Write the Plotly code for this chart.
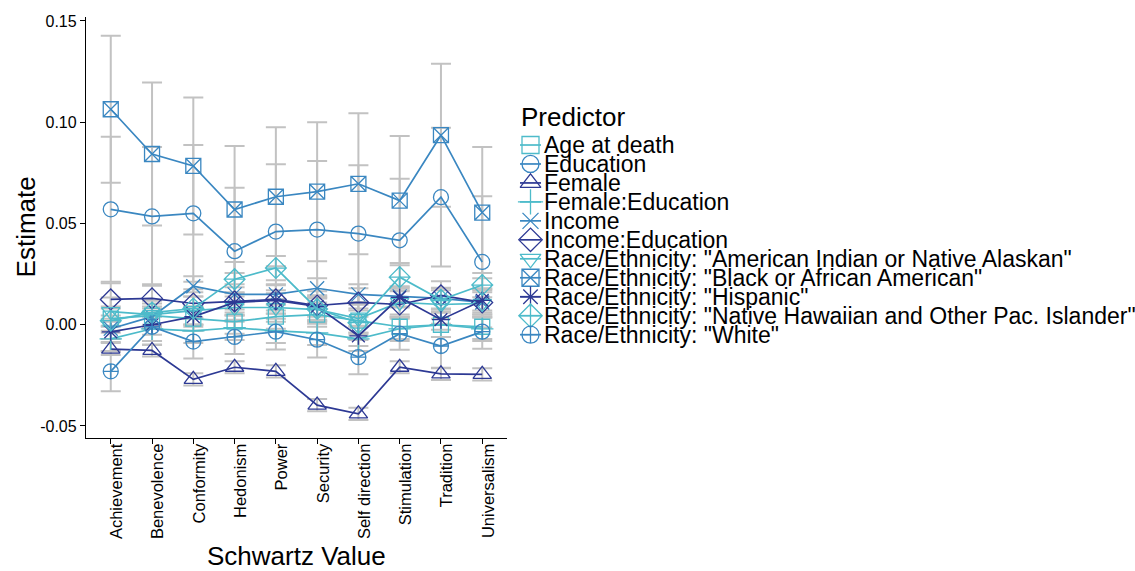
import plotly.graph_objects as go

# ---- data -------------------------------------------------------------
categories = ["Achievement", "Benevolence", "Conformity", "Hedonism", "Power",
              "Security", "Self direction", "Stimulation", "Tradition", "Universalism"]

predictors = ["Age at death", "Education", "Female", "Female:Education", "Income",
              "Income:Education",
              'Race/Ethnicity: "American Indian or Native Alaskan"',
              'Race/Ethnicity: "Black or African American"',
              'Race/Ethnicity: "Hispanic"',
              'Race/Ethnicity: "Native Hawaiian and Other Pac. Islander"',
              'Race/Ethnicity: "White"']

age_at_death = [0.0030, 0.0045, 0.0030, 0.0015, 0.0040, 0.0050, 0.0020, -0.0010, 0.0000, -0.0010]
education = [0.0570, 0.0535, 0.0550, 0.0363, 0.0460, 0.0470, 0.0450, 0.0417, 0.0630, 0.0310]
female = [-0.0120, -0.0127, -0.0270, -0.0210, -0.0230, -0.0397, -0.0440, -0.0210, -0.0243, -0.0245]
female_education = [-0.0070, -0.0020, -0.0030, -0.0015, -0.0030, -0.0040, -0.0070, -0.0020, 0.0000, -0.0020]
income = [-0.0020, 0.0040, 0.0190, 0.0150, 0.0150, 0.0180, 0.0150, 0.0140, 0.0130, 0.0110]
income_education = [0.0125, 0.0130, 0.0105, 0.0115, 0.0125, 0.0095, 0.0110, 0.0100, 0.0145, 0.0110]
amer_indian = [0.0065, 0.0050, 0.0070, 0.0085, 0.0085, 0.0075, 0.0030, 0.0110, 0.0100, 0.0105]
black = [0.1064, 0.0843, 0.0784, 0.0569, 0.0632, 0.0657, 0.0696, 0.0613, 0.0936, 0.0554]
hispanic = [-0.0035, 0.0000, 0.0040, 0.0110, 0.0120, 0.0090, -0.0055, 0.0135, 0.0025, 0.0120]
native_hawaiian = [0.0020, 0.0060, 0.0080, 0.0225, 0.0280, 0.0078, 0.0010, 0.0235, 0.0123, 0.0196]
white = [-0.0230, -0.0010, -0.0083, -0.0060, -0.0034, -0.0074, -0.0160, -0.0044, -0.0105, -0.0034]

# half-widths of the confidence intervals
age_at_death_ci = [0.006, 0.006, 0.006, 0.006, 0.006, 0.006, 0.006, 0.006, 0.006, 0.006]
education_ci = [0.0358, 0.0343, 0.0338, 0.0314, 0.0333, 0.0338, 0.0338, 0.0304, 0.0343, 0.0324]
female_ci = [0.003, 0.003, 0.003, 0.003, 0.003, 0.003, 0.003, 0.003, 0.003, 0.003]
female_education_ci = [0.006, 0.006, 0.006, 0.006, 0.006, 0.006, 0.006, 0.006, 0.006, 0.006]
income_ci = [0.005, 0.005, 0.005, 0.005, 0.005, 0.005, 0.005, 0.005, 0.005, 0.005]
income_education_ci = [0.008, 0.007, 0.007, 0.007, 0.007, 0.007, 0.007, 0.007, 0.007, 0.007]
amer_indian_ci = [0.007, 0.007, 0.007, 0.007, 0.007, 0.007, 0.007, 0.007, 0.007, 0.007]
black_ci = [0.0363, 0.0353, 0.0338, 0.0314, 0.0343, 0.0343, 0.0348, 0.0319, 0.0353, 0.0324]
hispanic_ci = [0.005, 0.005, 0.005, 0.005, 0.005, 0.005, 0.005, 0.005, 0.005, 0.005]
native_hawaiian_ci = [0.006, 0.006, 0.008, 0.0085, 0.006, 0.006, 0.006, 0.007, 0.006, 0.006]
white_ci = [0.0098, 0.0090, 0.0084, 0.0085, 0.0088, 0.0088, 0.0085, 0.0080, 0.0110, 0.0084]

y_ticks = [-0.05, 0.00, 0.05, 0.10, 0.15]
y_tick_labels = ["-0.05", "0.00", "0.05", "0.10", "0.15"]

# ---- styling ----------------------------------------------------------
LIGHT, MID, DARK = "#4dbbca", "#3a87c1", "#2d3994"
series = [
    (predictors[0], age_at_death, age_at_death_ci, LIGHT, "square-open", 15),
    (predictors[1], education, education_ci, MID, "circle-open", 15),
    (predictors[2], female, female_ci, DARK, "triangle-up-open", 16),
    (predictors[3], female_education, female_education_ci, LIGHT, "cross-thin-open", 16),
    (predictors[4], income, income_ci, MID, "x-thin-open", 14),
    (predictors[5], income_education, income_education_ci, DARK, "diamond-open", 16),
    (predictors[6], amer_indian, amer_indian_ci, LIGHT, "triangle-down-open", 16),
    (predictors[7], black, black_ci, MID, "square-x-open", 15),
    (predictors[8], hispanic, hispanic_ci, DARK, "asterisk-open", 15),
    (predictors[9], native_hawaiian, native_hawaiian_ci, LIGHT, "diamond-cross-open", 16),
    (predictors[10], white, white_ci, MID, "circle-cross-open", 15),
]

W, H = 1135, 571
FONT = "Liberation Sans, Arial, Helvetica, sans-serif"
plot_l, plot_r, plot_t, plot_b = 86, 507, 13, 437

fig = go.Figure()

# error bars first so every line and point sits above them
for name, vals, ci, col, sym, size in series:
    fig.add_trace(go.Scatter(
        x=categories, y=vals, mode="markers",
        marker=dict(size=1, opacity=0),
        error_y=dict(type="data", array=ci, symmetric=True,
                     color="#c2c2c2", thickness=2, width=10),
        showlegend=False, hoverinfo="skip"))

for name, vals, ci, col, sym, size in series:
    fig.add_trace(go.Scatter(
        x=categories, y=vals, mode="lines+markers", name=name,
        line=dict(color=col, width=1.7),
        marker=dict(symbol=sym, size=size, color=col,
                    line=dict(color=col, width=1.3)),
        showlegend=False))

# ---- legend drawn on its own pixel-scaled axes ------------------------
leg_x0, leg_key_w, leg_row0, leg_gap = 520, 21, 142, 19.1
for i, (name, vals, ci, col, sym, size) in enumerate(series):
    yy = leg_row0 + i * leg_gap
    fig.add_trace(go.Scatter(
        x=[leg_x0, leg_x0 + leg_key_w], y=[yy, yy], mode="lines",
        line=dict(color=col, width=1.7), xaxis="x2", yaxis="y2",
        showlegend=False, hoverinfo="skip"))
    fig.add_trace(go.Scatter(
        x=[leg_x0 + leg_key_w / 2], y=[yy], mode="markers",
        marker=dict(symbol=sym, size=size + 2, color=col,
                    line=dict(color=col, width=1.3)),
        xaxis="x2", yaxis="y2", showlegend=False, hoverinfo="skip"))
    fig.add_annotation(x=leg_x0 + leg_key_w + 1, y=yy, xref="x2", yref="y2",
                       text=name, showarrow=False, xanchor="left", yanchor="middle",
                       font=dict(size=23, color="black", family=FONT))

fig.add_annotation(x=leg_x0 - 1, y=leg_row0 - 28, xref="x2", yref="y2",
                   text="Predictor", showarrow=False, xanchor="left", yanchor="middle",
                   font=dict(size=26, color="black", family=FONT))

# axis titles
fig.add_annotation(x=26 / W, y=1 - 225 / H, xref="paper", yref="paper",
                   xanchor="center", yanchor="middle",
                   text="Estimate", textangle=-90, showarrow=False,
                   font=dict(size=26, color="black", family=FONT))
fig.add_annotation(x=(plot_l + plot_r) / 2 / W, y=1 - 556 / H, xref="paper", yref="paper",
                   xanchor="center", yanchor="middle",
                   text="Schwartz Value", showarrow=False,
                   font=dict(size=26, color="black", family=FONT))

fig.update_layout(
    width=W, height=H,
    margin=dict(l=0, r=0, t=0, b=0),
    paper_bgcolor="white", plot_bgcolor="rgba(0,0,0,0)",
    font=dict(family=FONT, color="black"),
    showlegend=False,
    xaxis=dict(domain=[plot_l / W, plot_r / W], type="category",
               categoryorder="array", categoryarray=categories,
               range=[-0.6, len(categories) - 0.4],
               showline=True, linecolor="black", linewidth=1.3,
               ticks="outside", ticklen=5, tickwidth=1.2, tickcolor="black",
               tickangle=-90, ticklabelstandoff=-7, ticklabelshift=6,
               tickfont=dict(size=16.5, color="black", family=FONT),
               showgrid=False, zeroline=False, anchor="y"),
    yaxis=dict(domain=[1 - plot_b / H, 1 - plot_t / H],
               range=[-0.0559, 0.152],
               tickvals=y_ticks, ticktext=y_tick_labels,
               showline=True, linecolor="black", linewidth=1.3,
               ticks="outside", ticklen=5, tickwidth=1.2, tickcolor="black",
               tickfont=dict(size=16, color="black", family=FONT),
               showgrid=False, zeroline=False, anchor="x"),
    xaxis2=dict(domain=[510 / W, 1], range=[510, W], visible=False,
                anchor="y2", fixedrange=True),
    yaxis2=dict(domain=[0, 1], range=[H, 0], visible=False,
                anchor="x2", fixedrange=True),
)

fig.write_html("out.html")
